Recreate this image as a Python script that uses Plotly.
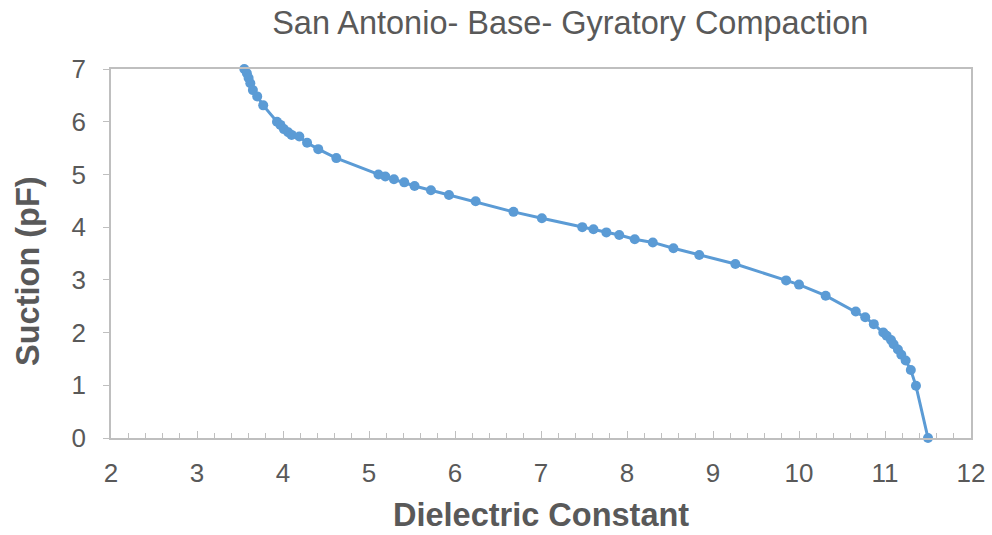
import plotly.graph_objects as go

# Dielectric constant vs. suction (pF) measurements
dielectric = [3.55, 3.58, 3.60, 3.62, 3.65, 3.70, 3.77, 3.93, 3.97, 4.01, 4.06, 4.10,
              4.19, 4.28, 4.41, 4.62, 5.11, 5.19, 5.29, 5.41, 5.53, 5.72, 5.93, 6.24,
              6.68, 7.01, 7.48, 7.61, 7.76, 7.91, 8.09, 8.30, 8.54, 8.84, 9.26, 9.85,
              10.00, 10.31, 10.66, 10.77, 10.87, 10.98, 11.02, 11.07, 11.10, 11.15,
              11.19, 11.24, 11.30, 11.36, 11.50]
suction = [7.00, 6.92, 6.83, 6.73, 6.60, 6.48, 6.31, 6.00, 5.94, 5.86, 5.80, 5.75,
           5.72, 5.60, 5.48, 5.31, 5.00, 4.96, 4.91, 4.85, 4.78, 4.70, 4.61, 4.49,
           4.29, 4.17, 4.00, 3.96, 3.90, 3.85, 3.77, 3.71, 3.60, 3.47, 3.30, 2.99,
           2.91, 2.70, 2.40, 2.29, 2.16, 2.00, 1.94, 1.86, 1.78, 1.68,
           1.58, 1.47, 1.29, 0.99, 0.00]

x_ticks = list(range(2, 13))
y_ticks = list(range(0, 8))

BLUE = "#5B9BD5"
GRAY_TEXT = "#595959"
GRAY_LINE = "#BFBFBF"
FONT = "Liberation Sans, Arial, sans-serif"

fig = go.Figure(
    go.Scatter(
        x=dielectric, y=suction, mode="lines+markers",
        line=dict(color=BLUE, width=3),
        marker=dict(color=BLUE, size=10),
        cliponaxis=False,
        showlegend=False,
    )
)

fig.update_layout(
    width=992, height=535,
    margin=dict(l=111, r=21, t=69, b=97, autoexpand=False),
    paper_bgcolor="white", plot_bgcolor="white",
    font=dict(family=FONT, color=GRAY_TEXT),
    title=dict(
        text="San Antonio- Base- Gyratory Compaction",
        x=0.534, xref="paper", xanchor="center",
        y=0.958, yref="container", yanchor="middle",
        font=dict(size=32.5, color=GRAY_TEXT, family=FONT),
    ),
    annotations=[
        dict(text="<b>Dielectric Constant</b>", xref="paper", yref="paper",
             x=0.4997, y=-0.21, xanchor="center", yanchor="middle",
             showarrow=False, font=dict(size=32.5, color=GRAY_TEXT, family=FONT)),
        dict(text="<b>Suction (pF)</b>", xref="paper", yref="paper",
             x=-0.096, y=0.454, xanchor="center", yanchor="middle", textangle=-90,
             showarrow=False, font=dict(size=32.5, color=GRAY_TEXT, family=FONT)),
    ],
)

fig.update_xaxes(
    range=[2, 12], tickvals=x_ticks, ticktext=[str(v) for v in x_ticks],
    automargin=False,
    showgrid=False, zeroline=False,
    showline=True, linecolor=GRAY_LINE, linewidth=1.5, mirror=True,
    ticks="inside", ticklen=7, tickcolor=GRAY_LINE, tickwidth=1,
    minor=dict(dtick=0.2, ticks="inside", ticklen=5, tickcolor=GRAY_LINE, tickwidth=1),
    tickfont=dict(size=26, color=GRAY_TEXT, family=FONT),
    ticklabelstandoff=11,
)

fig.update_yaxes(
    range=[0, 7], tickvals=y_ticks, ticktext=[str(v) for v in y_ticks],
    automargin=False,
    showgrid=False, zeroline=False,
    showline=True, linecolor=GRAY_LINE, linewidth=1.5, mirror=True,
    ticks="outside", ticklen=6, tickcolor=GRAY_LINE, tickwidth=1,
    tickfont=dict(size=26, color=GRAY_TEXT, family=FONT),
    ticklabelstandoff=12,
)

fig.write_html("out.html")
